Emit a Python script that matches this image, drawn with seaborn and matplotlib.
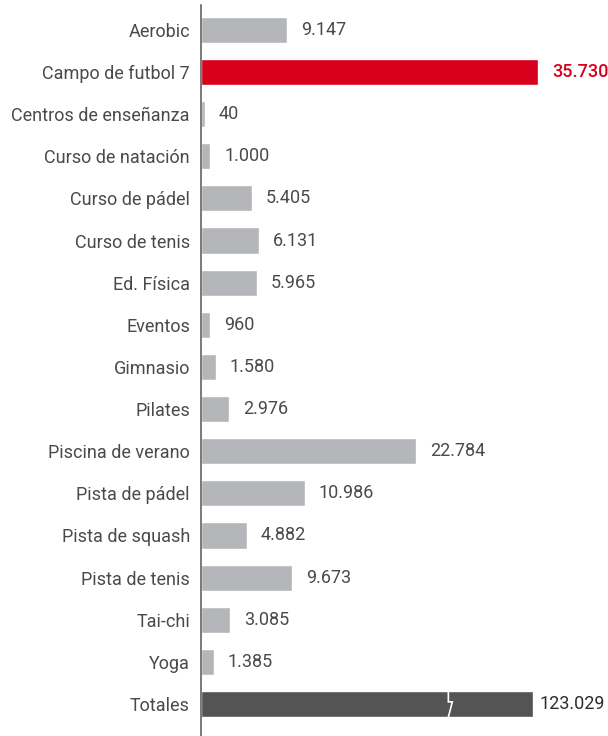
import numpy as np
import pandas as pd
import matplotlib
matplotlib.use('Agg')
import matplotlib.pyplot as plt
import seaborn as sns

# data
categories = ['Aerobic', 'Campo de futbol 7', 'Centros de enseñanza', 'Curso de natación',
              'Curso de pádel', 'Curso de tenis', 'Ed. Física', 'Eventos', 'Gimnasio',
              'Pilates', 'Piscina de verano', 'Pista de pádel', 'Pista de squash',
              'Pista de tenis', 'Tai-chi', 'Yoga', 'Totales']
values = [9147, 35730, 40, 1000, 5405, 6131, 5965, 960, 1580, 2976, 22784,
          10986, 4882, 9673, 3085, 1385, 123029]

# Totales bar is drawn broken/truncated at this length; tiny bars get a minimum stub
TOTAL_CAP = 35200
MIN_BAR = 420

GREY = '#b5b6b9'
RED = '#d7001d'
DARK = '#545454'
TEXT = '#4a4a4a'

colors = [GREY] * len(categories)
colors[1] = RED
colors[-1] = DARK

shown = [max(v, MIN_BAR) for v in values[:-1]] + [TOTAL_CAP]
df = pd.DataFrame({'cat': categories, 'val': shown})

sns.set_theme(style='white')
plt.rcParams['font.family'] = ['Roboto', 'DejaVu Sans']

fig = plt.figure(figsize=(6.08, 7.36), dpi=100)
ax = fig.add_axes([201 / 608, 0, 1 - 201 / 608, 1 - 5 / 736])

sns.barplot(data=df, y='cat', x='val', hue='cat', palette=colors, legend=False,
            orient='h', width=0.62, saturation=1, ax=ax)

ax.set_xlim(0, 43150)
ax.set_ylim(16.76, -0.59)
ax.set_xlabel('')
ax.set_ylabel('')
ax.set_xticks([])
ax.tick_params(axis='y', length=0, pad=8, labelsize=13, labelcolor=TEXT)
for s in ['top', 'right', 'bottom']:
    ax.spines[s].set_visible(False)
ax.spines['left'].set_color('#555555')
ax.spines['left'].set_linewidth(1.1)

def fmt(v):
    return f'{v:,}'.replace(',', '.')

for i, (v, w) in enumerate(zip(values, shown)):
    color = TEXT
    weight = 'normal'
    off = 10
    if i == 1:
        color = RED
        weight = 'medium'
    elif i == len(values) - 1:
        color = '#2e2e2e'
        off = 5
    ax.annotate(fmt(v), (w, i), xytext=(off, 0), textcoords='offset points',
                va='center', ha='left', fontsize=13, color=color, fontweight=weight)

# break mark on the Totales bar
i = len(values) - 1
bx = TOTAL_CAP * 0.745
dx = TOTAL_CAP * 0.012
ax.plot([bx, bx, bx + dx, bx], [i - 0.31, i - 0.05, i - 0.05, i + 0.31],
        color='white', lw=1.2, solid_joinstyle='miter')

fig.savefig('out.png', dpi=100)
